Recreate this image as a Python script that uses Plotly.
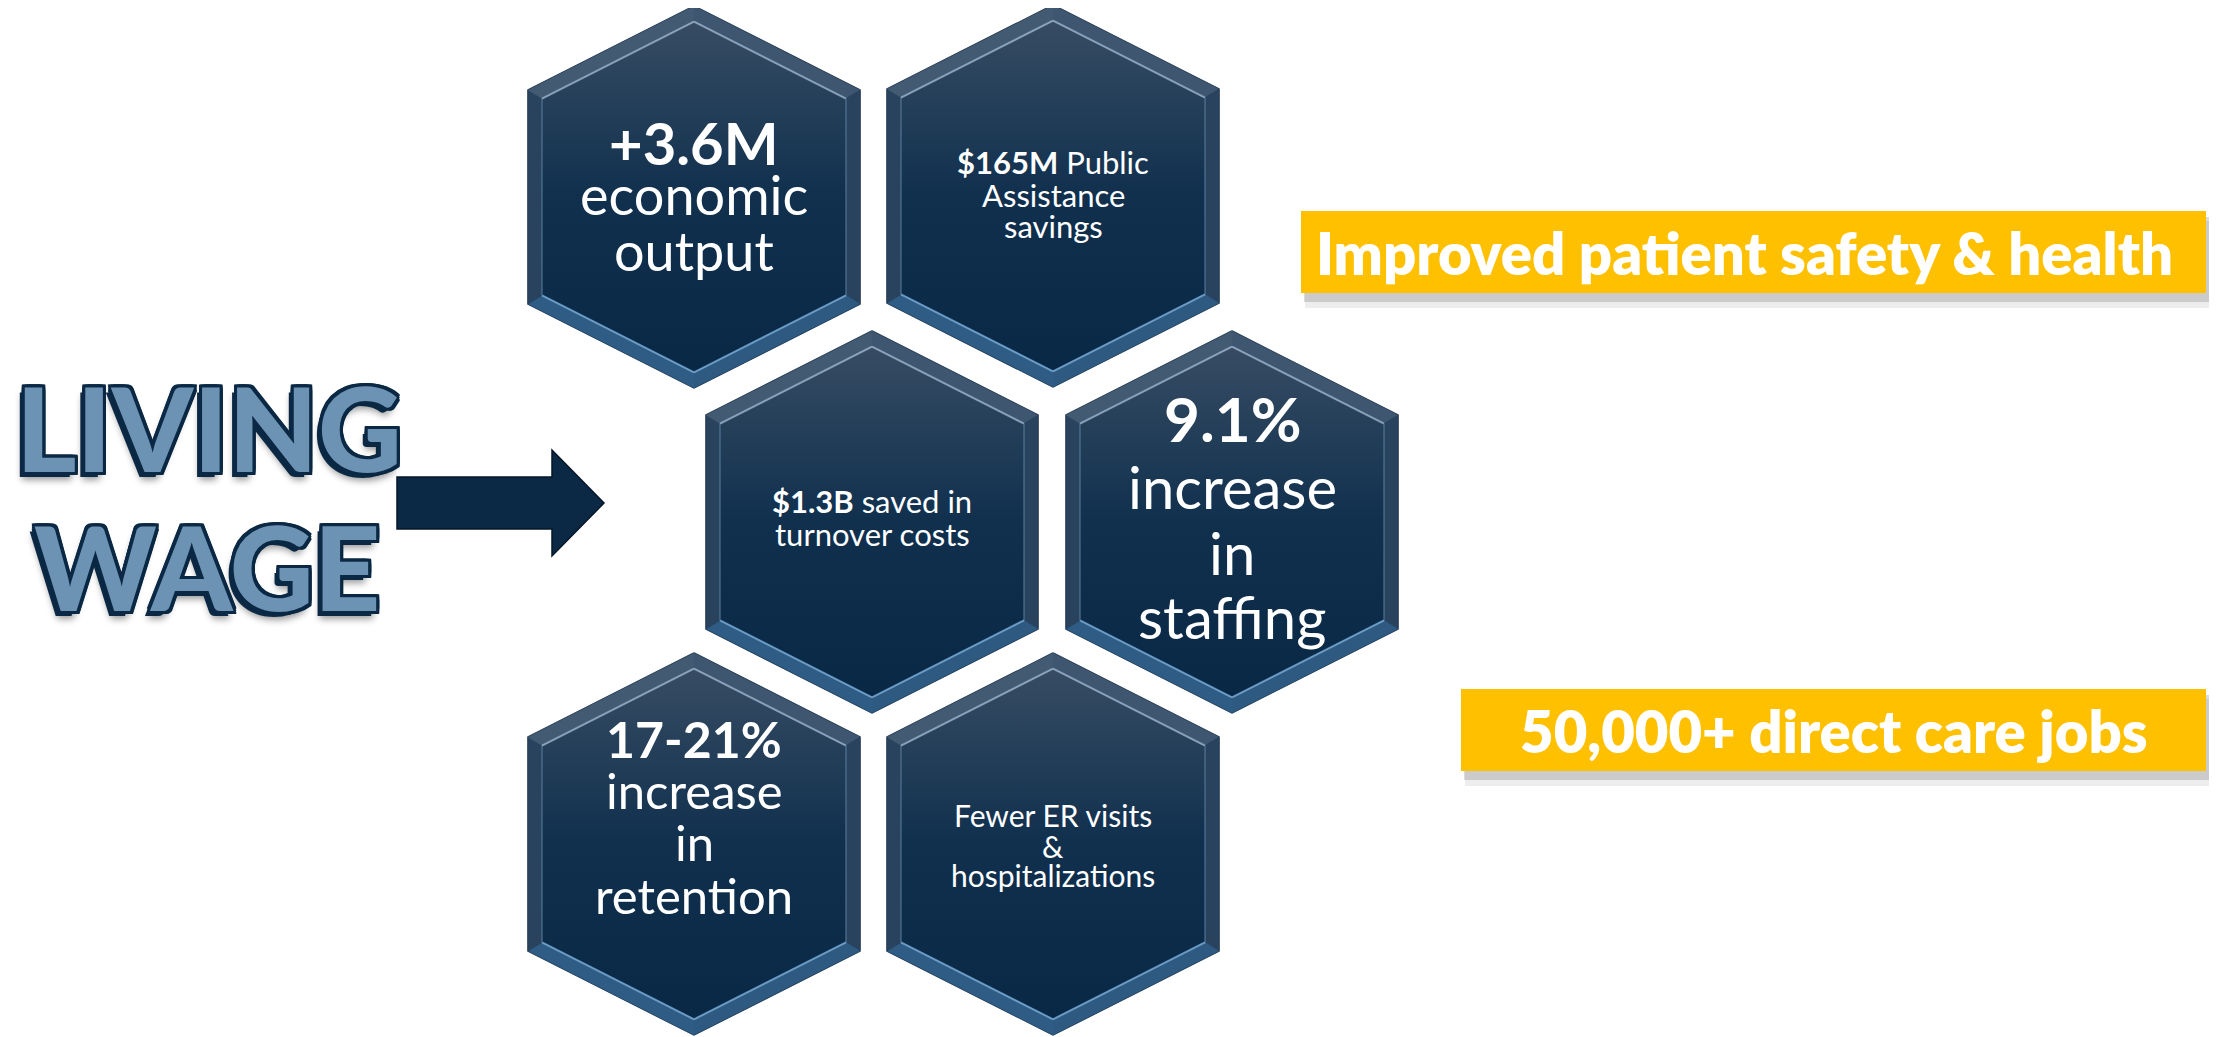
import math
import plotly.graph_objects as go

W, H = 2217, 1037
PAGE_MARGIN = 8  # default body margin of the html page

# ---------------- data (text content) ----------------
hex_lines = [
    ["<b>+3.6M</b>", "economic", "output"],
    ["<b>$165M</b> Public", "Assistance", "savings"],
    ["<b>$1.3B</b> saved in", "turnover costs"],
    ["<b>9.1%</b>", "increase", "in", "staffing"],
    ["<b>17-21%</b>", "increase", "in", "retention"],
    ["Fewer ER visits", "&", "hospitalizations"],
]
callouts = ["Improved patient safety & health", "50,000+ direct care jobs"]
headline = ["LIVING", "WAGE"]

# ---------------- layout (positions, sizes, styles) ----------------
hex_centers = [(694, 197), (1053, 196), (872, 522), (1232, 522), (694, 844), (1053, 844)]
hex_w, hex_h, hex_rise = 166, 191, 84
bevel = 14
hex_text_y = [[142, 194, 250], [162, 195, 226], [501, 534],
              [418, 486, 552, 616], [739, 790, 842, 895], [815, 846, 875]]
hex_text_size = [[58, 54, 54], [31, 31, 31], [31, 31],
                 [62, 58, 58, 58], [50, 49, 49, 49], [30, 30, 30]]
# facet colours, clockwise from the top vertex
bevel_colors = ["#3f5670", "#29435e", "#2e5a82", "#2f5c84", "#29435e", "#435a73"]
highlight_colors = ["rgba(165,190,214,0.75)", "rgba(90,125,160,0.5)", "rgba(120,172,214,0.85)",
                    "rgba(120,172,214,0.85)", "rgba(90,125,160,0.5)", "rgba(165,190,214,0.75)"]

callout_boxes = [(1301, 211, 2206, 293), (1461, 689, 2206, 771)]
callout_text_xy = [(1744, 252), (1834, 730)]
callout_size = 58

headline_xy = [(209, 427), (207, 566)]
headline_size = 116

arrow = dict(x0=397, xb=552, xt=604, yc=503, shaft_h=52, head_h=106)

FONT = "Lato"
NAVY = "#0b2944"
GOLD = "#FFC000"


def hex_pts(cx, cy):
    return [(cx, cy - hex_h), (cx + hex_w, cy - hex_h + hex_rise), (cx + hex_w, cy + hex_h - hex_rise),
            (cx, cy + hex_h), (cx - hex_w, cy + hex_h - hex_rise), (cx - hex_w, cy - hex_h + hex_rise)]


def inset(poly, d):
    n = len(poly)
    gx = sum(p[0] for p in poly) / n
    gy = sum(p[1] for p in poly) / n
    lines = []
    for i in range(n):
        (x1, y1), (x2, y2) = poly[i], poly[(i + 1) % n]
        dx, dy = x2 - x1, y2 - y1
        L = math.hypot(dx, dy)
        nx, ny = -dy / L, dx / L
        mx, my = (x1 + x2) / 2, (y1 + y2) / 2
        if (gx - mx) * nx + (gy - my) * ny < 0:
            nx, ny = -nx, -ny
        lines.append(((x1 + d * nx, y1 + d * ny), (dx, dy)))
    out = []
    for i in range(n):
        (p1, d1), (p2, d2) = lines[i - 1], lines[i]
        den = d1[0] * d2[1] - d1[1] * d2[0]
        t = ((p2[0] - p1[0]) * d2[1] - (p2[1] - p1[1]) * d2[0]) / den
        out.append((p1[0] + t * d1[0], p1[1] + t * d1[1]))
    return out


def closed(pts):
    return [p[0] for p in pts] + [pts[0][0]], [p[1] for p in pts] + [pts[0][1]]


fig = go.Figure()

for (cx, cy) in hex_centers:
    outer = hex_pts(cx, cy)
    inner = inset(outer, bevel)
    xs, ys = closed(outer)
    fig.add_trace(go.Scatter(x=xs, y=ys, fill="toself", fillcolor="#2a4560", mode="lines",
                             line=dict(color="#1c3249", width=1.5), hoverinfo="skip", showlegend=False))
    for k in range(6):
        a, b = outer[k], outer[(k + 1) % 6]
        c, d = inner[(k + 1) % 6], inner[k]
        fig.add_trace(go.Scatter(
            x=[a[0], b[0], c[0], d[0], a[0]], y=[a[1], b[1], c[1], d[1], a[1]],
            fill="toself", fillcolor=bevel_colors[k], mode="lines",
            line=dict(color=bevel_colors[k], width=0.5), hoverinfo="skip", showlegend=False))
    xs, ys = closed(inner)
    top = min(ys)
    bot = max(ys)
    fig.add_trace(go.Scatter(
        x=xs, y=ys, fill="toself", mode="lines",
        fillgradient=dict(type="vertical",
                          colorscale=[[0, "#374c63"], [0.5, "#10304e"], [1, "#092845"]],
                          start=top, stop=bot),
        line=dict(color="rgba(0,0,0,0)", width=0), hoverinfo="skip", showlegend=False))
    for k in range(6):
        p, q = inner[k], inner[(k + 1) % 6]
        fig.add_trace(go.Scatter(x=[p[0], q[0]], y=[p[1], q[1]], mode="lines",
                                 line=dict(color=highlight_colors[k], width=2),
                                 hoverinfo="skip", showlegend=False))

annotations = []
for i, lines in enumerate(hex_lines):
    cx, _ = hex_centers[i]
    for j, t in enumerate(lines):
        annotations.append(dict(
            x=cx, y=hex_text_y[i][j], xref="x", yref="y", text=t, showarrow=False,
            xanchor="center", yanchor="middle",
            font=dict(family=FONT, size=hex_text_size[i][j], color="white")))

shapes = []
for (x0, y0, x1, y1) in callout_boxes:
    shapes.append(dict(type="rect", xref="x", yref="y", x0=x0 + 4, y0=y0 + 10, x1=x1 + 4, y1=y1 + 15,
                       fillcolor="rgba(0,0,0,0.07)", line=dict(width=0), layer="below"))
    shapes.append(dict(type="rect", xref="x", yref="y", x0=x0 + 3, y0=y0 + 6, x1=x1 + 3, y1=y1 + 9,
                       fillcolor="rgba(0,0,0,0.14)", line=dict(width=0), layer="below"))
    shapes.append(dict(type="rect", xref="x", yref="y", x0=x0, y0=y0, x1=x1, y1=y1,
                       fillcolor=GOLD, line=dict(width=0), layer="below"))

for k, t in enumerate(callouts):
    x, y = callout_text_xy[k]
    annotations.append(dict(
        x=x, y=y, xref="x", yref="y", text=t, showarrow=False,
        xanchor="center", yanchor="middle",
        font=dict(family=FONT, size=callout_size, color="white", weight=800)))

a = arrow
sh, hh = a["shaft_h"] / 2, a["head_h"] / 2
path = (f"M {a['x0']},{a['yc']-sh} L {a['xb']},{a['yc']-sh} L {a['xb']},{a['yc']-hh} "
        f"L {a['xt']},{a['yc']} L {a['xb']},{a['yc']+hh} L {a['xb']},{a['yc']+sh} "
        f"L {a['x0']},{a['yc']+sh} Z")
shapes.append(dict(type="path", xref="x", yref="y", path=path, fillcolor=NAVY,
                   line=dict(color="#051628", width=1.5)))

outline = []
for dx in (-3, -2, 0, 2, 3):
    for dy in (-3, -2, 0, 2, 3):
        if dx or dy:
            outline.append(f"{dx}px {dy}px 0 {NAVY}")
outline.append(f"-5px 5px 0 {NAVY}")
outline.append("-3px 8px 7px rgba(0,0,0,0.4)")
shadow = ", ".join(outline)
for k, t in enumerate(headline):
    x, y = headline_xy[k]
    annotations.append(dict(
        x=x, y=y, xref="x", yref="y", text=t, showarrow=False,
        xanchor="center", yanchor="middle",
        font=dict(family=FONT, size=headline_size, color="#6d93b4", weight=900, shadow=shadow)))

m = PAGE_MARGIN
fig.update_layout(
    width=W - m, height=H - m, margin=dict(l=0, r=0, t=0, b=0),
    paper_bgcolor="white", plot_bgcolor="white",
    xaxis=dict(range=[m, W], visible=False, fixedrange=True),
    yaxis=dict(range=[H, m], visible=False, fixedrange=True),
    shapes=shapes, annotations=annotations, hovermode=False, showlegend=False,
)

fig.write_html("out.html", config=dict(displayModeBar=False))
